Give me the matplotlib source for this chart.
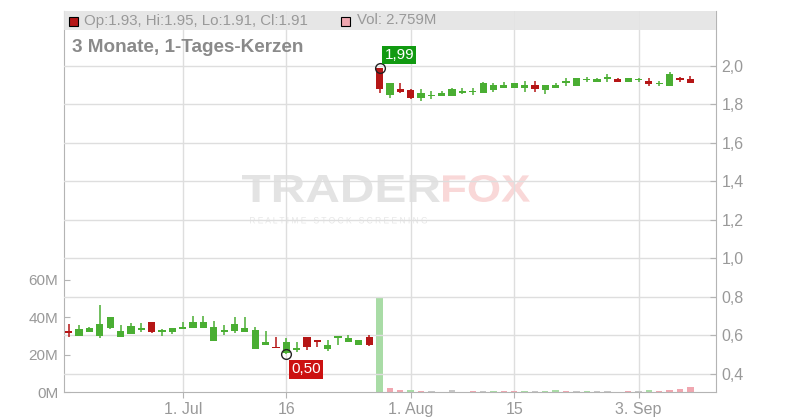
import matplotlib
matplotlib.use("Agg")
import matplotlib.pyplot as plt
import numpy as np
import pandas as pd
from matplotlib.textpath import TextPath
from matplotlib.patches import PathPatch, Rectangle
from matplotlib.transforms import Affine2D
from matplotlib.font_manager import FontProperties

plt.rcParams['font.family'] = ['Liberation Sans', 'DejaVu Sans']

# trading days (US calendar), 13 Jun - 10 Sep 2024
holidays = ['2024-06-19', '2024-07-04', '2024-09-02']
dates = [d for d in pd.bdate_range('2024-06-13', '2024-09-10') if d.strftime('%Y-%m-%d') not in holidays]

tick_dates = ['2024-07-01', '2024-07-16', '2024-08-01', '2024-08-15', '2024-09-03']
tick_labels = ['1. Jul', '16', '1. Aug', '15', '3. Sep']

opens = [0.620, 0.597, 0.618, 0.597, 0.639, 0.592, 0.607, 0.628, 0.668, 0.618,
         0.618, 0.638, 0.638, 0.638, 0.571, 0.618, 0.623, 0.616, 0.527, 0.551,
         0.539, 0.505, 0.529, 0.588, 0.574, 0.527, 0.583, 0.565, 0.551, 0.591,
         1.990, 1.849, 1.882, 1.873, 1.835, 1.846, 1.846, 1.846, 1.858, 1.868,
         1.858, 1.873, 1.887, 1.887, 1.884, 1.901, 1.875, 1.887, 1.917, 1.898,
         1.930, 1.918, 1.937, 1.932, 1.918, 1.930, 1.922, 1.910, 1.898, 1.937,
         1.930]
highs = [0.658, 0.652, 0.642, 0.757, 0.694, 0.652, 0.663, 0.663, 0.668, 0.630,
         0.637, 0.666, 0.699, 0.699, 0.673, 0.652, 0.696, 0.692, 0.640, 0.621,
         0.591, 0.583, 0.565, 0.588, 0.574, 0.574, 0.595, 0.600, 0.574, 0.600,
         1.990, 1.910, 1.910, 1.878, 1.880, 1.872, 1.870, 1.887, 1.884, 1.887,
         1.918, 1.910, 1.918, 1.911, 1.922, 1.922, 1.901, 1.911, 1.937, 1.937,
         1.944, 1.937, 1.958, 1.937, 1.937, 1.937, 1.937, 1.924, 1.969, 1.943,
         1.950]
lows = [0.592, 0.597, 0.618, 0.587, 0.633, 0.592, 0.607, 0.618, 0.613, 0.597,
        0.607, 0.638, 0.638, 0.638, 0.571, 0.600, 0.609, 0.616, 0.527, 0.551,
        0.531, 0.500, 0.513, 0.522, 0.539, 0.517, 0.551, 0.565, 0.551, 0.544,
        1.858, 1.835, 1.858, 1.826, 1.818, 1.826, 1.846, 1.846, 1.853, 1.851,
        1.858, 1.866, 1.887, 1.887, 1.863, 1.866, 1.854, 1.887, 1.898, 1.898,
        1.918, 1.918, 1.918, 1.918, 1.918, 1.918, 1.898, 1.896, 1.898, 1.918,
        1.910]
closes = [0.617, 0.632, 0.637, 0.658, 0.694, 0.621, 0.647, 0.639, 0.618, 0.628,
          0.637, 0.641, 0.668, 0.668, 0.642, 0.628, 0.656, 0.639, 0.625, 0.565,
          0.531, 0.565, 0.533, 0.539, 0.569, 0.551, 0.595, 0.586, 0.572, 0.551,
          1.879, 1.910, 1.866, 1.832, 1.858, 1.849, 1.858, 1.880, 1.872, 1.870,
          1.911, 1.899, 1.899, 1.911, 1.899, 1.879, 1.901, 1.901, 1.920, 1.937,
          1.932, 1.932, 1.940, 1.918, 1.937, 1.937, 1.906, 1.913, 1.958, 1.927,
          1.910]
# volume in millions, colour code: g up, r down, n unchanged
volumes = [0] * 30 + [50.0, 2.3, 1.1, 1.1, 0.5, 0.5, 0, 1.1, 0, 0.5,
                      0.5, 0.5, 0.5, 0.5, 0.5, 0.5, 0.5, 1.1, 0.5, 0.5,
                      0.5, 0.5, 0.5, 0, 0.5, 0.5, 1.1, 0.5, 1.1, 1.6, 2.759]
vol_dir = ['n'] * 30 + list('grrgrngngrngrrgnggrngnnnrngrr')
vol_dir = vol_dir + ['r'] * (len(volumes) - len(vol_dir))

UP, DOWN = '#4aae33', '#b51616'
VOLC = {'g': '#a9dca6', 'r': '#f0a7b0', 'n': '#c6c6c6'}
GRID = '#dedede'
TXT = '#999999'

W, H = 800, 420
fig = plt.figure(figsize=(W / 100, H / 100), dpi=100)


def fx(px):
    return px / W


def fy(py):
    return 1 - py / H


ax_vol = fig.add_axes([fx(64), fy(392), fx(716) - fx(64), fy(11) - fy(392)])
ax = ax_vol.twinx()
ax_vol.patch.set_visible(False)

x = np.arange(len(dates))
o, h, l, c = map(np.array, (opens, highs, lows, closes))
v = np.array(volumes) * 1e6

# volume
ax_vol.bar(x, v, width=0.62, color=[VOLC[d] for d in vol_dir], zorder=2)
ax_vol.set_ylim(0, 203.7e6)
ax_vol.set_yticks([0, 20e6, 40e6, 60e6])
ax_vol.set_yticklabels(['0M', '20M', '40M', '60M'])

# candles
cols = [UP if cc >= oo else DOWN for oo, cc in zip(o, c)]
ax.vlines(x, l, h, color=cols, lw=1.1, zorder=4)
body = np.maximum(np.abs(c - o), 0.008)
ax.bar(x, body, bottom=np.minimum(o, c) - np.where(np.abs(c - o) < 0.008, 0.004, 0),
       width=0.7, color=cols, zorder=5)

ax.set_ylim(0.304, 2.286)
ax.set_yticks(np.arange(0.4, 2.01, 0.2))
ax.set_yticklabels([f'{t:.1f}'.replace('.', ',') for t in np.arange(0.4, 2.01, 0.2)])
ax.set_xlim(-0.46, 62.48)
ax.yaxis.grid(True, color=GRID, lw=1, zorder=0)

pos = [dates.index(pd.Timestamp(d)) for d in tick_dates]
ax_vol.set_xticks(pos)
ax_vol.set_xticklabels(tick_labels)
ax_vol.xaxis.grid(True, color=GRID, lw=1)
ax_vol.set_axisbelow(True)

for a in (ax, ax_vol):
    for s in a.spines.values():
        s.set_color('#b4b4b4')
    a.spines['top'].set_visible(False)
ax.spines['left'].set_visible(False)
ax.spines['bottom'].set_visible(False)
ax_vol.spines['right'].set_visible(False)
ax.tick_params(axis='y', direction='in', length=4, color='#b4b4b4', labelcolor=TXT, labelsize=11.5, pad=4)
ax_vol.tick_params(axis='y', direction='in', length=4, color='#b4b4b4', labelcolor=TXT, labelsize=11, pad=4)
ax_vol.tick_params(axis='x', direction='out', length=4, color='#b4b4b4', labelcolor=TXT, labelsize=11.5, pad=3)

# high / low markers
ih = int(np.argmax(h))
il = int(np.argmin(l))
ax.plot([ih], [h[ih]], 'o', ms=7, mfc='none', mec='#222222', mew=1, zorder=6)
ax.plot([il], [l[il]], 'o', ms=7, mfc='none', mec='#222222', mew=1, zorder=6)
ax.annotate(f'{h[ih]:.2f}'.replace('.', ','), (ih, h[ih]), xytext=(5, 6), textcoords='offset pixels',
            ha='left', va='bottom', color='white', fontsize=11,
            bbox=dict(boxstyle='square,pad=0.15', fc='#119a11', ec='none'), zorder=7)
ax.annotate(f'{l[il]:.2f}'.replace('.', ','), (il, l[il]), xytext=(5, -8), textcoords='offset pixels',
            ha='left', va='top', color='white', fontsize=11,
            bbox=dict(boxstyle='square,pad=0.15', fc='#cc1111', ec='none'), zorder=7)

# header band
ax.add_patch(Rectangle((0, (392 - 30) / 381), 1, 1 - (392 - 30) / 381, transform=ax.transAxes,
                       fc='#e4e4e4', ec='none', alpha=0.9, zorder=8, clip_on=False))
fig.patches.append(Rectangle((fx(69), fy(26)), 9 / W, 9 / H, transform=fig.transFigure,
                             fc=DOWN, ec='black', lw=0.8, zorder=10))
fig.patches.append(Rectangle((fx(341), fy(26)), 9 / W, 9 / H, transform=fig.transFigure,
                             fc=VOLC['r'], ec='black', lw=0.8, zorder=10))
fig.text(fx(84), fy(20.5), f'Op:{o[-1]:.2f}, Hi:{h[-1]:.2f}, Lo:{l[-1]:.2f}, Cl:{c[-1]:.2f}',
         color=TXT, fontsize=10.8, va='center', ha='left', zorder=10)
fig.text(fx(357), fy(20.5), f'Vol: {volumes[-1]:.3f}M', color=TXT, fontsize=10.8,
         va='center', ha='left', zorder=10)
fig.text(fx(72), fy(47), '3 Monate, 1-Tages-Kerzen', color='#8a8a8a', fontsize=13.6,
         fontweight='bold', va='center', ha='left', zorder=10)


# watermark
def watermark(text, x0, x1, ytop, ybot, color, weight='bold'):
    tp = TextPath((0, 0), text, size=50, prop=FontProperties(family='Liberation Sans', weight=weight))
    bb = tp.get_extents()
    tr = Affine2D().translate(-bb.x0, -bb.y0).scale((x1 - x0) / bb.width, (ybot - ytop) / bb.height)
    tr = tr.translate(x0, H - ybot)
    fig.add_artist(PathPatch(tp, transform=tr, fc=color, ec='none', zorder=-1))


watermark('TRADER', 242, 440, 175, 202, '#e3e3e3')
watermark('FOX', 443, 530, 175, 202, '#f9d8d8')
watermark('R E A L T I M E   S T O C K   S C R E E N I N G', 250, 427, 217, 223.5, '#e6e6e6', 'normal')

fig.savefig('out.png', dpi=100)
